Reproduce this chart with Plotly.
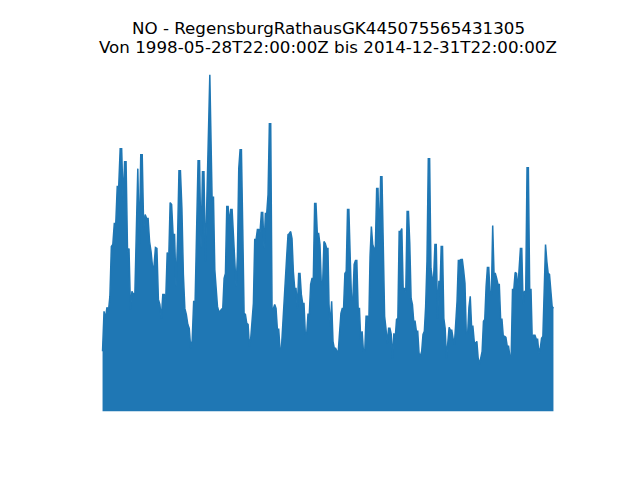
import pandas as pd
import plotly.graph_objects as go

# NO time series, upper envelope (axis is hidden, so units are relative)
seg1_start, seg1_end = "1998-05-28", "2002-05-09"
seg1 = [60, 100, 93, 104, 100, 115, 165, 167, 188, 188, 225, 225, 263, 263, 210, 250, 250,
        160, 163, 102, 120, 117, 118, 188, 243, 167, 257, 257, 182, 197, 193, 193, 170, 160,
        145, 145, 164, 163, 112, 107, 93, 117, 117, 112, 159, 150, 209, 207, 177, 177, 125,
        170, 241, 241, 203, 137, 103, 97, 87, 83, 63, 71, 110, 110, 197, 251, 251, 163, 240,
        240, 150, 217, 257, 337]

seg2_start, seg2_end = "2002-06-09", "2006-09-13"
seg2 = [210, 215, 142, 117, 105, 100, 100, 102, 103, 133, 138, 205, 205, 188, 202, 202, 173,
        142, 125, 155, 243, 262, 262, 182, 98, 97, 88, 87, 65, 73, 88, 108, 172, 172, 182, 182,
        180, 199, 199, 163, 198, 198, 217, 288, 288, 103, 103, 107, 103, 82, 82, 62, 62, 88,
        110, 137, 155, 177, 178, 180, 173, 140, 123, 123, 103, 138, 138, 117, 108, 108, 77, 77,
        97, 97, 127, 133, 133, 208, 208, 178, 178, 167, 127, 127, 170, 168, 163, 163]

seg3_start, seg3_end = "2006-09-27", "2010-10-31"
seg3 = [107, 85, 110, 70, 63, 63, 60, 60, 83, 98, 103, 103, 138, 140, 202, 202, 155, 112, 112,
        147, 151, 151, 103, 103, 70, 80, 60, 60, 95, 95, 83, 155, 185, 167, 163, 163, 223, 223,
        168, 235, 235, 170, 95, 83, 68, 83, 83, 77, 53, 78, 73, 92, 93, 180, 180, 183, 123, 123,
        120, 200, 200, 168, 113, 107, 90, 90, 80, 80, 58, 55, 60, 77, 80, 105, 150, 253, 253,
        143, 133, 133, 167, 167, 93, 130, 130]

seg4_start, seg4_end = "2010-11-13", "2014-12-31"
seg4 = [165, 165, 93, 83, 53, 70, 84, 81, 81, 73, 67, 88, 110, 151, 151, 152, 152, 141, 128,
        77, 77, 104, 115, 85, 85, 70, 67, 70, 53, 47, 55, 60, 90, 92, 125, 144, 144, 117, 117,
        186, 138, 138, 133, 127, 127, 92, 92, 75, 75, 74, 65, 65, 55, 55, 122, 122, 139, 138,
        122, 148, 163, 163, 107, 120, 120, 244, 244, 122, 122, 68, 76, 76, 72, 72, 58, 63, 73,
        75, 132, 167, 150, 138, 137, 123, 105, 103]

station = "NO - RegensburgRathausGK445075565431305"
period = "Von 1998-05-28T22:00:00Z bis 2014-12-31T22:00:00Z"

segments = [(seg1_start, seg1_end, seg1), (seg2_start, seg2_end, seg2),
            (seg3_start, seg3_end, seg3), (seg4_start, seg4_end, seg4)]
times, values = [], []
for start, end, vals in segments:
    times.extend(pd.date_range(start, end, periods=len(vals)))
    values.extend(vals)

fig = go.Figure()
fig.add_trace(go.Scatter(
    x=times,
    y=values,
    mode='lines',
    line=dict(color='#1f77b4', width=1.5),
    fill='tozeroy',
    fillcolor='#1f77b4',
    hoverinfo='skip',
))

# matplotlib-like 5% padding around the data
t0, t1 = min(times), max(times)
pad = (t1 - t0) * 0.05
ymax = max(values)

title_font = dict(family='DejaVu Sans', size=16.7, color='black')
for text, ypos in [(station, 1.082), (period, 1.031)]:
    fig.add_annotation(text=text, x=0.5, y=ypos, xref='paper', yref='paper',
                       xanchor='center', yanchor='middle', showarrow=False,
                       font=title_font)

# page body adds an 8px offset, so margins are shifted to keep matplotlib's axes box
fig.update_layout(
    width=640,
    height=480,
    xaxis=dict(visible=False, range=[t0 - pad, t1 + pad]),
    yaxis=dict(visible=False, range=[-0.05 * ymax, 1.05 * ymax]),
    plot_bgcolor='white',
    paper_bgcolor='white',
    margin=dict(l=72, r=72, t=50, b=60),
    showlegend=False,
)

fig.write_html("out.html")
